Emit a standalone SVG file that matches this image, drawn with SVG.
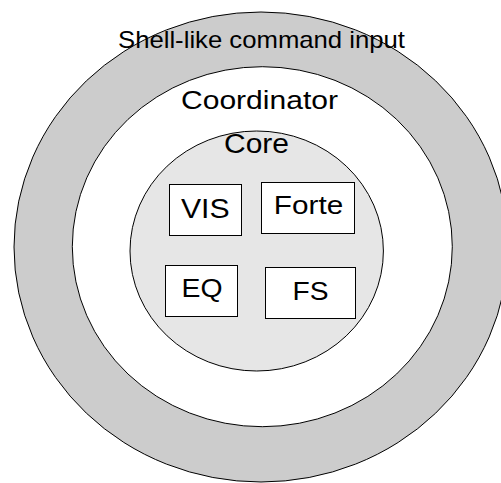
<svg xmlns="http://www.w3.org/2000/svg" width="501" height="483" viewBox="0 0 501 483">
<style>
.ring{stroke:#000;stroke-width:1}
.box{fill:#fff;stroke:#000;stroke-width:1}
.t{font-family:"Liberation Sans",Arial,sans-serif;fill:#000;text-anchor:middle}
</style>
<rect width="501" height="483" fill="#fff"/>
<g id="shell">
<ellipse class="ring" cx="261" cy="247" rx="247" ry="235" fill="#cccccc"/>
<text class="t" x="261.5" y="47.5" font-size="24" textLength="287" lengthAdjust="spacingAndGlyphs">Shell-like command input</text>
</g>
<g id="coordinator">
<ellipse class="ring" cx="262.3" cy="246.7" rx="190" ry="180" fill="#fff"/>
<text class="t" x="259.5" y="108.5" font-size="26" textLength="157" lengthAdjust="spacingAndGlyphs">Coordinator</text>
</g>
<g id="core">
<ellipse class="ring" cx="256.7" cy="251" rx="126.7" ry="120" fill="#e6e6e6"/>
<text class="t" x="256.5" y="152.5" font-size="27" textLength="65" lengthAdjust="spacingAndGlyphs">Core</text>
</g>
<g id="vis">
<rect class="box" x="169.5" y="184.5" width="72" height="51"/>
<text class="t" x="205.3" y="217.7" font-size="28" textLength="48.7" lengthAdjust="spacingAndGlyphs">VIS</text>
</g>
<g id="forte">
<rect class="box" x="261.5" y="182.5" width="93" height="51"/>
<text class="t" x="308.5" y="214.3" font-size="26" textLength="69.3" lengthAdjust="spacingAndGlyphs">Forte</text>
</g>
<g id="eq">
<rect class="box" x="165.5" y="265.5" width="72" height="51"/>
<text class="t" x="202" y="297.3" font-size="26" textLength="41" lengthAdjust="spacingAndGlyphs">EQ</text>
</g>
<g id="fs">
<rect class="box" x="265.5" y="267.5" width="90" height="51"/>
<text class="t" x="310.5" y="299.5" font-size="26" textLength="36" lengthAdjust="spacingAndGlyphs">FS</text>
</g>
</svg>
